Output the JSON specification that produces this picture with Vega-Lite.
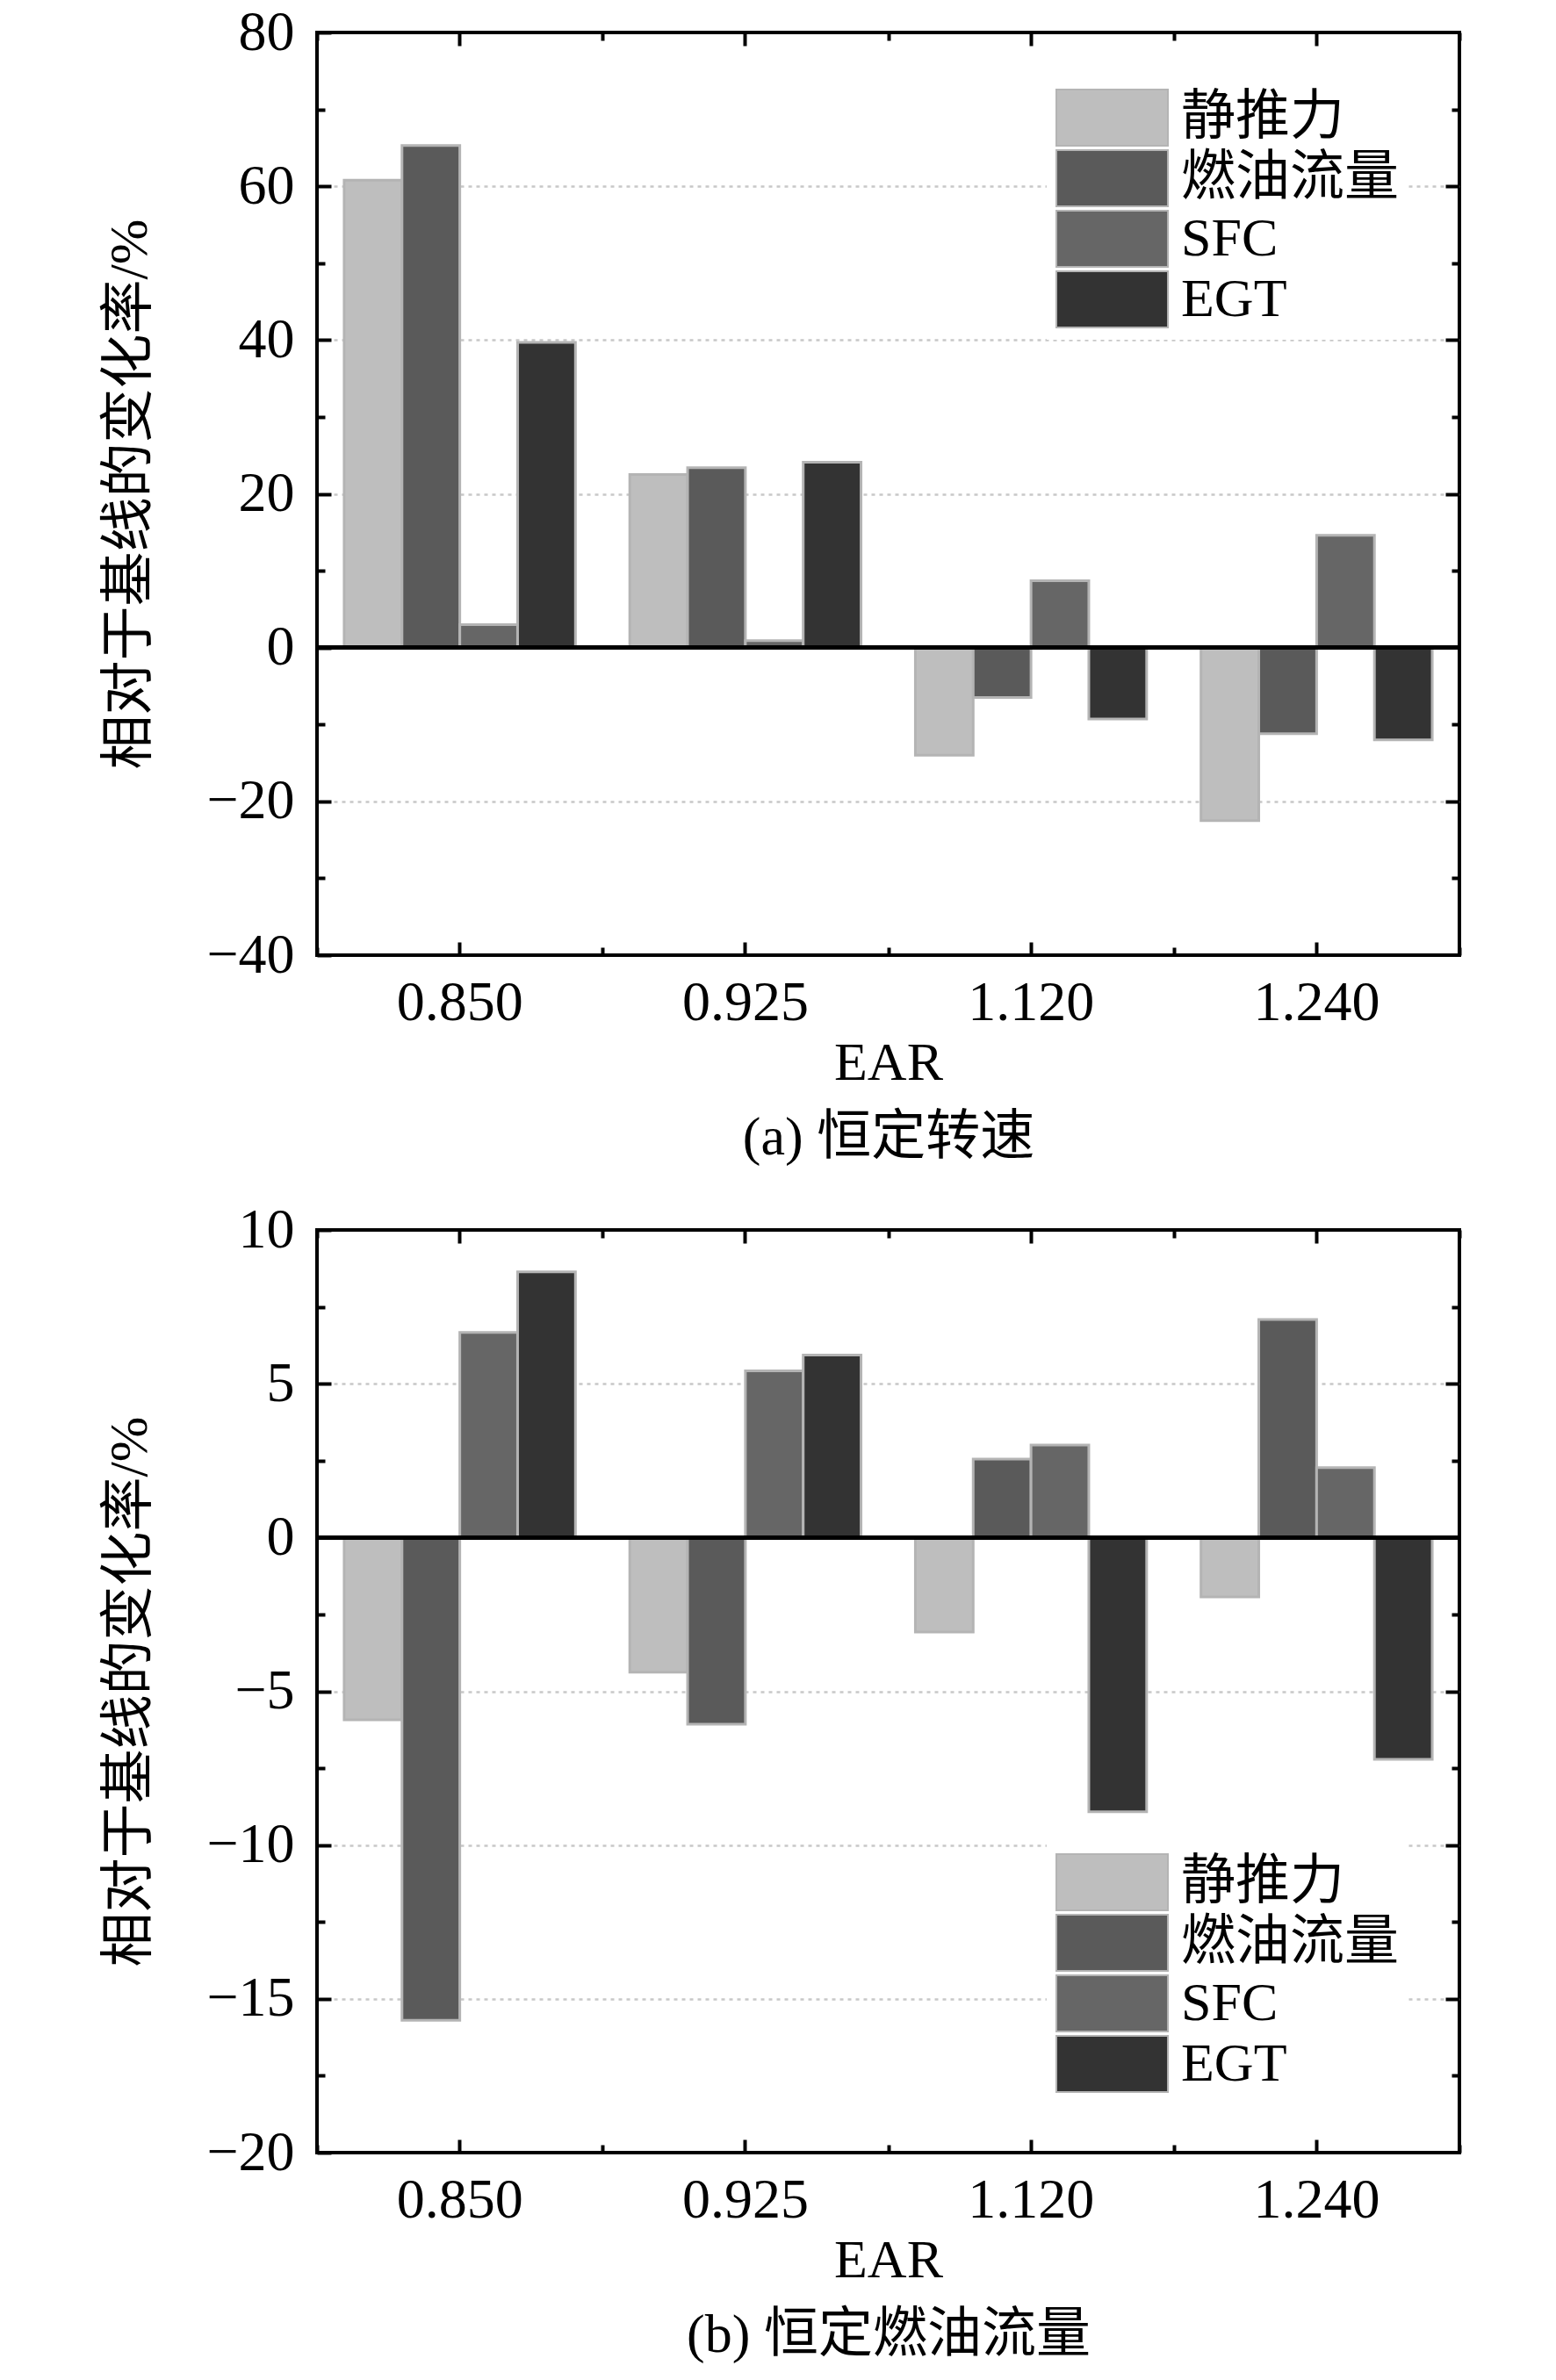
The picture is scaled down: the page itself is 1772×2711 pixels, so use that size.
{
  "$schema": "https://vega.github.io/schema/vega-lite/v6.json",
  "padding": {"left": 114, "top": 3, "right": 0, "bottom": 0},
  "background": "white",
  "spacing": 39,
  "resolve": {
    "scale": {"x": "independent", "y": "independent", "color": "independent", "xOffset": "independent"},
    "legend": {"color": "independent"}
  },
  "vconcat": [
    {
      "width": 1301,
      "height": 1051,
      "data": {"values": [
        {"ear": "0.850", "series": "静推力", "value": 60.8},
        {"ear": "0.850", "series": "燃油流量", "value": 65.3},
        {"ear": "0.850", "series": "SFC", "value": 3.0},
        {"ear": "0.850", "series": "EGT", "value": 39.7},
        {"ear": "0.925", "series": "静推力", "value": 22.5},
        {"ear": "0.925", "series": "燃油流量", "value": 23.4},
        {"ear": "0.925", "series": "SFC", "value": 0.9},
        {"ear": "0.925", "series": "EGT", "value": 24.1},
        {"ear": "1.120", "series": "静推力", "value": -14.0},
        {"ear": "1.120", "series": "燃油流量", "value": -6.5},
        {"ear": "1.120", "series": "SFC", "value": 8.7},
        {"ear": "1.120", "series": "EGT", "value": -9.3},
        {"ear": "1.240", "series": "静推力", "value": -22.5},
        {"ear": "1.240", "series": "燃油流量", "value": -11.2},
        {"ear": "1.240", "series": "SFC", "value": 14.6},
        {"ear": "1.240", "series": "EGT", "value": -12.0}
      ]},
      "resolve": {"axis": {"x": "independent", "y": "independent"}},
      "layer": [
        {
          "mark": {"type": "bar", "stroke": "#b4b4b4", "strokeWidth": 3},
          "encoding": {
            "x": {"field": "ear", "type": "nominal", "scale": {"paddingInner": 0, "paddingOuter": 0},
                  "axis": {"orient": "bottom", "title": ["EAR", "(a) 恒定转速"], "labelAngle": 0, "tickSize": -15, "labelPadding": 37, "titlePadding": 6}},
            "xOffset": {"field": "series", "type": "nominal", "scale": {"domain": ["静推力", "燃油流量", "SFC", "EGT"], "paddingInner": 0, "paddingOuter": 0.47}},
            "y": {"field": "value", "type": "quantitative", "stack": null, "scale": {"domain": [-40, 80], "nice": false},
                  "axis": {"orient": "left", "values": [-40, -20, 0, 20, 40, 60, 80], "tickSize": -16, "labelPadding": 42, "title": "相对于基线的变化率/%", "titlePadding": 55}},
            "color": {"field": "series", "type": "nominal",
                      "scale": {"domain": ["静推力", "燃油流量", "SFC", "EGT"], "range": ["#bebebe", "#5a5a5a", "#666666", "#333333"]},
                      "legend": {"legendX": 831, "legendY": 54}}
          }
        },
        {
          "mark": {"type": "bar", "opacity": 0},
          "encoding": {
            "x": {"field": "ear", "type": "nominal", "scale": {"paddingInner": 0, "paddingOuter": 0},
                  "axis": {"orient": "bottom", "title": null, "labels": false, "tickBand": "extent", "tickSize": -9}},
            "xOffset": {"field": "series", "type": "nominal", "scale": {"domain": ["静推力", "燃油流量", "SFC", "EGT"], "paddingInner": 0, "paddingOuter": 0.47}},
            "y": {"field": "value", "type": "quantitative", "stack": null, "scale": {"domain": [-40, 80], "nice": false},
                  "axis": {"orient": "left", "values": [-30, -10, 10, 30, 50, 70], "tickSize": -9, "labels": false, "title": null}}
          }
        },
        {
          "mark": {"type": "bar", "opacity": 0},
          "encoding": {
            "x": {"field": "ear", "type": "nominal", "scale": {"paddingInner": 0, "paddingOuter": 0},
                  "axis": {"orient": "top", "title": null, "labels": false, "tickSize": -15}},
            "xOffset": {"field": "series", "type": "nominal", "scale": {"domain": ["静推力", "燃油流量", "SFC", "EGT"], "paddingInner": 0, "paddingOuter": 0.47}},
            "y": {"field": "value", "type": "quantitative", "stack": null, "scale": {"domain": [-40, 80], "nice": false},
                  "axis": {"orient": "right", "values": [-20, 20, 40, 60], "tickSize": -16, "labels": false, "title": null,
                           "grid": true, "gridColor": "#c8c8c8", "gridDash": [4, 5], "gridWidth": 2.5, "zindex": 0}}
          }
        },
        {
          "mark": {"type": "bar", "opacity": 0},
          "encoding": {
            "x": {"field": "ear", "type": "nominal", "scale": {"paddingInner": 0, "paddingOuter": 0},
                  "axis": {"orient": "top", "title": null, "labels": false, "tickBand": "extent", "tickSize": -9}},
            "xOffset": {"field": "series", "type": "nominal", "scale": {"domain": ["静推力", "燃油流量", "SFC", "EGT"], "paddingInner": 0, "paddingOuter": 0.47}},
            "y": {"field": "value", "type": "quantitative", "stack": null, "scale": {"domain": [-40, 80], "nice": false},
                  "axis": {"orient": "right", "values": [-30, -10, 10, 30, 50, 70], "tickSize": -9, "labels": false, "title": null}}
          }
        },
        {
          "mark": {"type": "rule", "color": "black", "strokeWidth": 4},
          "encoding": {"y": {"datum": 0, "axis": null}}
        }
      ]
    },
    {
      "width": 1301,
      "height": 1051,
      "data": {"values": [
        {"ear": "0.850", "series": "静推力", "value": -5.93},
        {"ear": "0.850", "series": "燃油流量", "value": -15.7},
        {"ear": "0.850", "series": "SFC", "value": 6.67},
        {"ear": "0.850", "series": "EGT", "value": 8.64},
        {"ear": "0.925", "series": "静推力", "value": -4.38},
        {"ear": "0.925", "series": "燃油流量", "value": -6.07},
        {"ear": "0.925", "series": "SFC", "value": 5.42},
        {"ear": "0.925", "series": "EGT", "value": 5.93},
        {"ear": "1.120", "series": "静推力", "value": -3.07},
        {"ear": "1.120", "series": "燃油流量", "value": 2.55},
        {"ear": "1.120", "series": "SFC", "value": 3.01},
        {"ear": "1.120", "series": "EGT", "value": -8.92},
        {"ear": "1.240", "series": "静推力", "value": -1.93},
        {"ear": "1.240", "series": "燃油流量", "value": 7.09},
        {"ear": "1.240", "series": "SFC", "value": 2.27},
        {"ear": "1.240", "series": "EGT", "value": -7.21}
      ]},
      "resolve": {"axis": {"x": "independent", "y": "independent"}},
      "layer": [
        {
          "mark": {"type": "bar", "stroke": "#b4b4b4", "strokeWidth": 3},
          "encoding": {
            "x": {"field": "ear", "type": "nominal", "scale": {"paddingInner": 0, "paddingOuter": 0},
                  "axis": {"orient": "bottom", "title": ["EAR", "(b) 恒定燃油流量"], "labelAngle": 0, "tickSize": -15, "labelPadding": 37, "titlePadding": 6}},
            "xOffset": {"field": "series", "type": "nominal", "scale": {"domain": ["静推力", "燃油流量", "SFC", "EGT"], "paddingInner": 0, "paddingOuter": 0.47}},
            "y": {"field": "value", "type": "quantitative", "stack": null, "scale": {"domain": [-20, 10], "nice": false},
                  "axis": {"orient": "left", "values": [-20, -15, -10, -5, 0, 5, 10], "tickSize": -16, "labelPadding": 42, "title": "相对于基线的变化率/%", "titlePadding": 55}},
            "color": {"field": "series", "type": "nominal",
                      "scale": {"domain": ["静推力", "燃油流量", "SFC", "EGT"], "range": ["#bebebe", "#5a5a5a", "#666666", "#333333"]},
                      "legend": {"legendX": 831, "legendY": 700}}
          }
        },
        {
          "mark": {"type": "bar", "opacity": 0},
          "encoding": {
            "x": {"field": "ear", "type": "nominal", "scale": {"paddingInner": 0, "paddingOuter": 0},
                  "axis": {"orient": "bottom", "title": null, "labels": false, "tickBand": "extent", "tickSize": -9}},
            "xOffset": {"field": "series", "type": "nominal", "scale": {"domain": ["静推力", "燃油流量", "SFC", "EGT"], "paddingInner": 0, "paddingOuter": 0.47}},
            "y": {"field": "value", "type": "quantitative", "stack": null, "scale": {"domain": [-20, 10], "nice": false},
                  "axis": {"orient": "left", "values": [-17.5, -12.5, -7.5, -2.5, 2.5, 7.5], "tickSize": -9, "labels": false, "title": null}}
          }
        },
        {
          "mark": {"type": "bar", "opacity": 0},
          "encoding": {
            "x": {"field": "ear", "type": "nominal", "scale": {"paddingInner": 0, "paddingOuter": 0},
                  "axis": {"orient": "top", "title": null, "labels": false, "tickSize": -15}},
            "xOffset": {"field": "series", "type": "nominal", "scale": {"domain": ["静推力", "燃油流量", "SFC", "EGT"], "paddingInner": 0, "paddingOuter": 0.47}},
            "y": {"field": "value", "type": "quantitative", "stack": null, "scale": {"domain": [-20, 10], "nice": false},
                  "axis": {"orient": "right", "values": [-15, -10, -5, 5], "tickSize": -16, "labels": false, "title": null,
                           "grid": true, "gridColor": "#c8c8c8", "gridDash": [4, 5], "gridWidth": 2.5, "zindex": 0}}
          }
        },
        {
          "mark": {"type": "bar", "opacity": 0},
          "encoding": {
            "x": {"field": "ear", "type": "nominal", "scale": {"paddingInner": 0, "paddingOuter": 0},
                  "axis": {"orient": "top", "title": null, "labels": false, "tickBand": "extent", "tickSize": -9}},
            "xOffset": {"field": "series", "type": "nominal", "scale": {"domain": ["静推力", "燃油流量", "SFC", "EGT"], "paddingInner": 0, "paddingOuter": 0.47}},
            "y": {"field": "value", "type": "quantitative", "stack": null, "scale": {"domain": [-20, 10], "nice": false},
                  "axis": {"orient": "right", "values": [-17.5, -12.5, -7.5, -2.5, 2.5, 7.5], "tickSize": -9, "labels": false, "title": null}}
          }
        },
        {
          "mark": {"type": "rule", "color": "black", "strokeWidth": 4},
          "encoding": {"y": {"datum": 0, "axis": null}}
        }
      ]
    }
  ],
  "config": {
    "view": {"stroke": "black", "strokeWidth": 4},
    "axis": {
      "domain": false,
      "grid": false,
      "labelFont": "Liberation Serif",
      "labelFontSize": 64,
      "labelColor": "black",
      "labelOverlap": false,
      "labelFlush": false,
      "titleFont": "Liberation Serif, Noto Sans CJK SC",
      "titleFontSize": 62,
      "titleFontWeight": "normal",
      "titleColor": "black",
      "titleLineHeight": 85,
      "tickColor": "black",
      "tickWidth": 4
    },
    "legend": {
      "orient": "none",
      "title": null,
      "padding": 10,
      "fillColor": "white",
      "labelFont": "Liberation Serif, Noto Sans CJK SC",
      "labelFontSize": 62,
      "labelColor": "black",
      "labelOffset": 77,
      "symbolType": "M-1,-1H2.97V1H-1Z",
      "symbolSize": 4096,
      "symbolStrokeColor": "#b4b4b4",
      "symbolStrokeWidth": 2,
      "symbolOpacity": 1,
      "rowPadding": -4,
      "labelLimit": 400
    }
  }
}
